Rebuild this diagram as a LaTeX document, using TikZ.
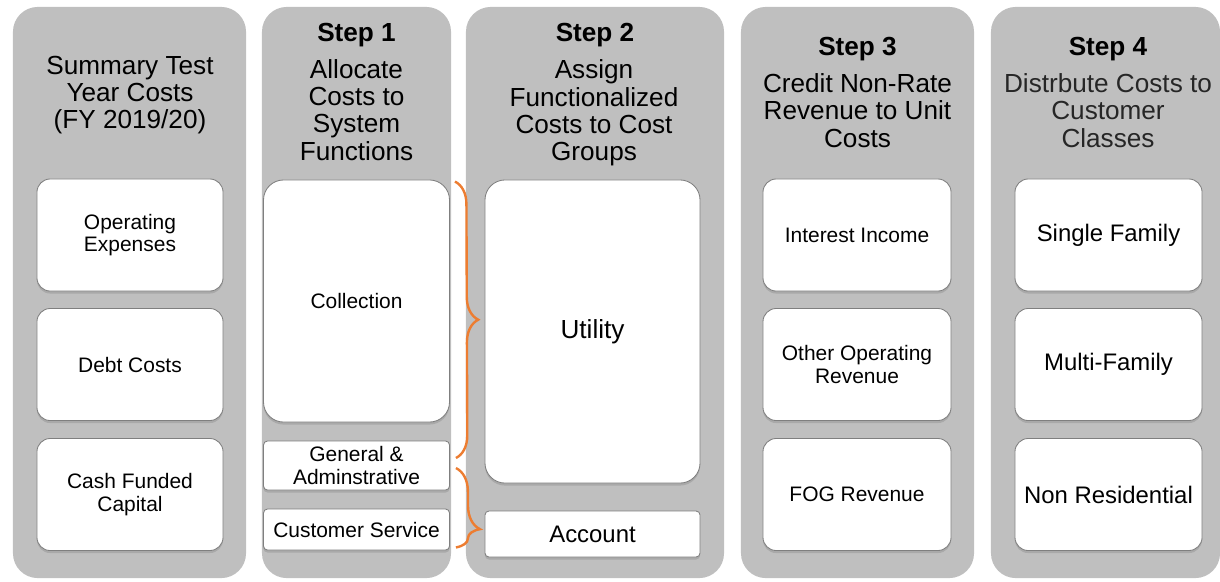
\documentclass[tikz,border=0pt]{standalone}
\usepackage{fontspec}
\setmainfont{Liberation Sans}
\usepackage{xcolor}
\usetikzlibrary{positioning, calc, shadows, decorations.pathreplacing}

\definecolor{panelgray}{RGB}{191,191,191}
\definecolor{boxline}{RGB}{127,127,127}
\definecolor{braceorange}{RGB}{237,125,49}

\begin{document}
\begin{tikzpicture}[
    x=0.025cm, y=-0.025cm,
    % Column panels and headers
    panel/.style={rectangle, rounded corners=0.62cm, fill=panelgray, minimum height=14.275cm, inner sep=0pt},
    steplab/.style={font=\fontsize{18.6}{19.4}\selectfont\bfseries, inner sep=0pt},
    headlab/.style={align=center, font=\fontsize{18.6}{19.4}\selectfont, inner sep=0pt},
    % Cost boxes
    costbox/.style={rectangle, rounded corners=0.33cm, draw=boxline, line width=0.6pt, fill=white, drop shadow={shadow xshift=0pt, shadow yshift=-1.8pt, opacity=0.35}, minimum width=4.65cm, minimum height=2.8cm, align=center, font=\fontsize{14.9}{16.2}\selectfont},
    flatbox/.style={costbox, rounded corners=0.1cm},
    bigfont/.style={font=\fontsize{17}{18}\selectfont},
    bracket/.style={decorate, decoration={brace, amplitude=0.57cm}, draw=braceorange, line width=1.7pt}
]
\useasboundingbox (0,0) rectangle (1220,581);

% Panels
\node[panel, minimum width=5.825cm] (pnl0) at (129.5,292.5) {};
\node[panel, minimum width=4.725cm] (pnl1) at (356.5,292.5) {};
\node[panel, minimum width=6.45cm] (pnl2) at (595,292.5) {};
\node[panel, minimum width=5.825cm] (pnl3) at (857.5,292.5) {};
\node[panel, minimum width=5.725cm] (pnl4) at (1105.5,292.5) {};

% === TEST YEAR ===
\node[headlab] (head0) at (130,95) {Summary Test\\Year Costs\\(FY 2019/20)};

\node[costbox] (opex) at (130,235) {Operating\\Expenses};
\node[costbox] (debt) at (130,364.5) {Debt Costs};
\node[costbox] (cashcap) at (130,494.5) {Cash Funded\\Capital};

% === STEP 1 ===
\node[steplab] (step1) at (356.5,35) {Step 1};
\node[headlab] (head1) at (356.5,110) {Allocate\\Costs to\\System\\Functions};

\node[costbox, rounded corners=0.5cm, minimum height=6.05cm] (collect) at (356.5,301) {Collection};
\node[flatbox, minimum height=1.225cm] (genadmin) at (356.5,465.5) {General \&\\Adminstrative};
\node[flatbox, minimum height=1.025cm] (custserv) at (356.5,529.5) {Customer Service};

% === STEP 2 ===
\node[steplab] (step2) at (595,35) {Step 2};
\node[headlab] (head2) at (594,113) {Assign\\Functionalized\\Costs to Cost\\Groups};

\node[costbox, rounded corners=0.5cm, minimum width=5.375cm, minimum height=7.575cm, font=\fontsize{18.6}{19.4}\selectfont] (utility) at (592.5,331.5) {Utility};
\node[flatbox, bigfont, minimum width=5.375cm, minimum height=1.15cm] (account) at (592.5,534) {Account};

% Braces from functions to cost groups
\draw[bracket] ($(collect.north east)+(5,2)$) -- ($(genadmin.east)+(6,-7.5)$);
\draw[bracket, decoration={brace, amplitude=0.6cm, aspect=0.77}] ($(genadmin.east)+(6,2.5)$) -- ($(custserv.south east)+(6,-3)$);

% === STEP 3 ===
\node[steplab] (step3) at (857.5,49) {Step 3};
\node[headlab] (head3) at (857.5,110.5) {Credit Non-Rate\\Revenue to Unit\\Costs};

\node[costbox, minimum width=4.7cm] (interest) at (857,235) {Interest Income};
\node[costbox, minimum width=4.7cm] (otherop) at (857,364.5) {Other Operating\\Revenue};
\node[costbox, minimum width=4.7cm] (fogrev) at (857,494.5) {FOG Revenue};

% === STEP 4 ===
\node[steplab] (step4) at (1108,49) {Step 4};
\node[headlab, text=black!85] (head4) at (1108,110.5) {Distrbute Costs to\\Customer\\Classes};

\node[costbox, bigfont, minimum width=4.675cm] (single) at (1108.5,235) {Single Family};
\node[costbox, bigfont, minimum width=4.675cm] (multi) at (1108.5,364.5) {Multi-Family};
\node[costbox, bigfont, minimum width=4.675cm] (nonres) at (1108.5,494.5) {Non Residential};

\end{tikzpicture}
\end{document}
